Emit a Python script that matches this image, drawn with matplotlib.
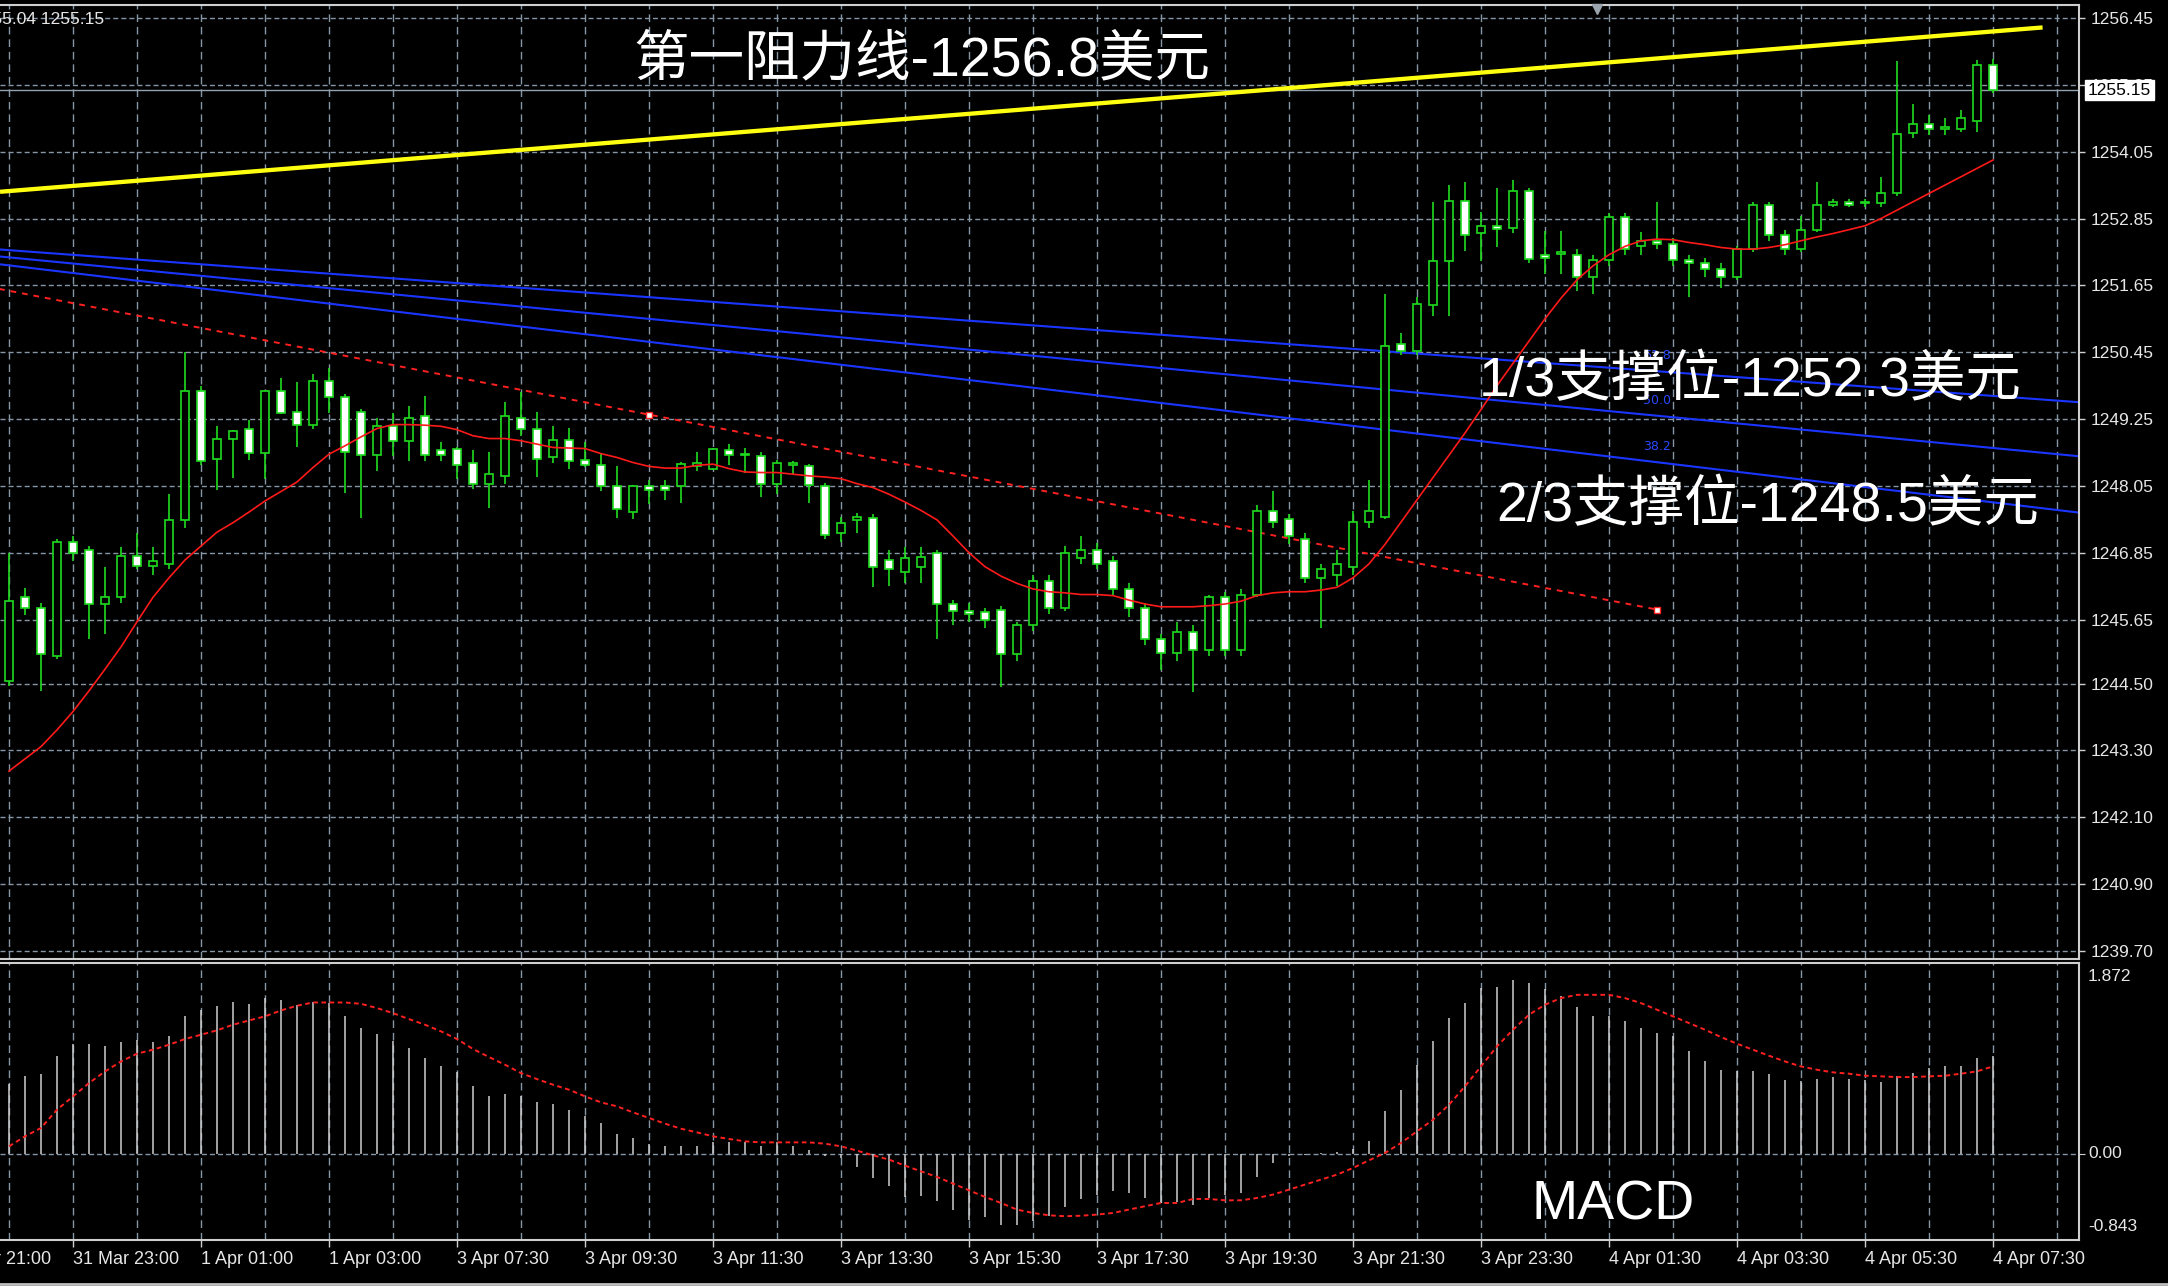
import numpy as np
import matplotlib
matplotlib.use('Agg')
import matplotlib.pyplot as plt

plt.rcParams['font.family'] = ['Liberation Sans', 'Noto Sans CJK SC', 'DejaVu Sans']

# ---- candles (15 min bars) ----
opens = np.array([
    1244.55, 1246.05, 1245.85, 1245.00, 1247.05, 1246.90, 1245.93, 1246.05, 1246.80, 1246.62,
    1246.65, 1247.44, 1249.76, 1248.53, 1248.89, 1249.08, 1248.64, 1249.76, 1249.37, 1249.14,
    1249.94, 1249.65, 1249.37, 1248.60, 1249.12, 1248.85, 1249.30, 1248.69, 1248.72, 1248.47,
    1248.08, 1248.22, 1249.26, 1249.08, 1248.57, 1248.87, 1248.51, 1248.43, 1248.04, 1247.58,
    1248.04, 1248.04, 1248.04, 1248.40, 1248.36, 1248.69, 1248.63, 1248.58, 1248.08, 1248.42,
    1248.40, 1248.04, 1247.20, 1247.44, 1247.47, 1246.72, 1246.50, 1246.60, 1246.85, 1245.93,
    1245.80, 1245.78, 1245.82, 1245.03, 1245.55, 1246.35, 1245.85, 1246.75, 1246.90, 1246.70,
    1246.20, 1245.85, 1245.30, 1245.05, 1245.43, 1245.10, 1246.05, 1245.10, 1246.10, 1247.60,
    1247.45, 1247.10, 1246.40, 1246.45, 1246.60, 1247.40, 1247.50, 1250.60, 1250.47, 1251.30,
    1252.08, 1253.17, 1252.59, 1252.71, 1252.68, 1253.35, 1252.20, 1252.22, 1252.20, 1251.80,
    1252.10, 1252.88, 1252.35, 1252.45, 1252.40, 1252.10, 1252.05, 1251.95, 1251.80, 1252.30,
    1253.10, 1252.55, 1252.30, 1252.65, 1253.10, 1253.15, 1253.12, 1253.12, 1253.30, 1254.38,
    1254.55, 1254.45, 1254.45, 1254.60, 1255.60])
highs = np.array([
    1246.85, 1246.22, 1245.95, 1247.10, 1247.15, 1246.97, 1246.60, 1246.95, 1247.20, 1246.95,
    1247.91, 1250.46, 1249.84, 1249.13, 1249.06, 1249.23, 1249.78, 1249.99, 1249.91, 1250.06,
    1250.17, 1249.70, 1249.43, 1249.26, 1249.35, 1249.49, 1249.67, 1248.83, 1248.74, 1248.70,
    1248.66, 1249.56, 1249.74, 1249.38, 1249.13, 1249.09, 1248.83, 1248.64, 1248.41, 1248.06,
    1248.16, 1248.16, 1248.48, 1248.66, 1248.73, 1248.80, 1248.73, 1248.65, 1248.52, 1248.49,
    1248.45, 1248.10, 1247.50, 1247.57, 1247.55, 1246.90, 1246.95, 1246.95, 1246.90, 1246.00,
    1245.95, 1245.85, 1245.90, 1245.60, 1246.45, 1246.45, 1246.97, 1247.15, 1247.02, 1246.80,
    1246.30, 1245.95, 1245.40, 1245.60, 1245.55, 1246.10, 1246.15, 1246.20, 1247.70, 1247.95,
    1247.55, 1247.20, 1246.65, 1246.90, 1247.60, 1248.15, 1251.50, 1250.80, 1251.45, 1253.14,
    1253.46, 1253.50, 1252.96, 1253.39, 1253.54, 1253.40, 1252.62, 1252.62, 1252.30, 1252.20,
    1252.95, 1252.95, 1252.60, 1253.15, 1252.50, 1252.20, 1252.15, 1252.05, 1252.35, 1253.15,
    1253.15, 1252.65, 1252.90, 1253.50, 1253.20, 1253.20, 1253.20, 1253.60, 1255.68, 1254.90,
    1254.70, 1254.65, 1254.80, 1255.70, 1255.72])
lows = np.array([
    1244.45, 1245.73, 1244.37, 1244.95, 1246.70, 1245.31, 1245.40, 1245.95, 1246.55, 1246.45,
    1246.55, 1247.30, 1248.42, 1247.98, 1248.20, 1248.52, 1248.17, 1249.34, 1248.74, 1249.07,
    1249.36, 1247.92, 1247.47, 1248.31, 1248.58, 1248.49, 1248.49, 1248.49, 1248.17, 1247.99,
    1247.66, 1248.08, 1248.94, 1248.21, 1248.46, 1248.35, 1248.39, 1247.96, 1247.47, 1247.45,
    1247.73, 1247.80, 1247.74, 1248.31, 1248.33, 1248.42, 1248.28, 1247.85, 1247.90, 1248.25,
    1247.74, 1247.10, 1247.05, 1247.20, 1246.23, 1246.25, 1246.30, 1246.30, 1245.31, 1245.55,
    1245.60, 1245.50, 1244.44, 1244.90, 1245.45, 1245.75, 1245.80, 1246.65, 1246.55, 1246.10,
    1245.70, 1245.20, 1244.75, 1244.90, 1244.35, 1245.00, 1245.00, 1245.00, 1246.05, 1247.30,
    1247.00, 1246.30, 1245.50, 1246.25, 1246.45, 1247.30, 1247.45, 1250.40, 1250.40, 1251.10,
    1251.10, 1252.26, 1252.08, 1252.33, 1252.59, 1252.05, 1251.86, 1251.86, 1251.55, 1251.50,
    1252.00, 1252.20, 1252.20, 1252.30, 1252.00, 1251.45, 1251.80, 1251.60, 1251.75, 1252.25,
    1252.45, 1252.20, 1252.25, 1252.60, 1253.05, 1253.05, 1253.05, 1253.05, 1253.25, 1254.30,
    1254.35, 1254.35, 1254.40, 1254.40, 1255.10])
closes = np.array([
    1245.98, 1245.85, 1245.03, 1247.05, 1246.85, 1245.93, 1246.05, 1246.80, 1246.62, 1246.70,
    1247.44, 1249.76, 1248.50, 1248.90, 1249.04, 1248.64, 1249.76, 1249.36, 1249.14, 1249.94,
    1249.64, 1248.65, 1248.60, 1249.12, 1248.85, 1249.26, 1248.60, 1248.60, 1248.42, 1248.08,
    1248.26, 1249.30, 1249.08, 1248.53, 1248.87, 1248.49, 1248.42, 1248.04, 1247.64, 1248.04,
    1247.97, 1247.97, 1248.45, 1248.47, 1248.72, 1248.60, 1248.60, 1248.08, 1248.47, 1248.47,
    1248.07, 1247.17, 1247.38, 1247.50, 1246.60, 1246.55, 1246.75, 1246.78, 1245.93, 1245.80,
    1245.75, 1245.65, 1245.03, 1245.55, 1246.35, 1245.85, 1246.85, 1246.90, 1246.65, 1246.20,
    1245.85, 1245.30, 1245.05, 1245.43, 1245.10, 1246.05, 1245.10, 1246.10, 1247.60, 1247.40,
    1247.15, 1246.40, 1246.55, 1246.65, 1247.40, 1247.60, 1250.57, 1250.47, 1251.31, 1252.09,
    1253.17, 1252.56, 1252.71, 1252.66, 1253.35, 1252.13, 1252.14, 1252.24, 1251.80, 1252.10,
    1252.88, 1252.30, 1252.45, 1252.40, 1252.10, 1252.05, 1251.95, 1251.80, 1252.30, 1253.10,
    1252.55, 1252.30, 1252.65, 1253.10, 1253.15, 1253.10, 1253.15, 1253.30, 1254.36, 1254.55,
    1254.45, 1254.50, 1254.65, 1255.60, 1255.15])

# moving average (red solid)
ma_vals = np.array([
    1242.93, 1243.15, 1243.37, 1243.67, 1244.00, 1244.37, 1244.76, 1245.16, 1245.61, 1246.05,
    1246.40, 1246.72, 1246.97, 1247.22, 1247.39, 1247.58, 1247.78, 1247.95, 1248.12, 1248.38,
    1248.62, 1248.77, 1248.93, 1249.08, 1249.15, 1249.15, 1249.14, 1249.12, 1249.06, 1248.95,
    1248.90, 1248.90, 1248.86, 1248.80, 1248.74, 1248.73, 1248.72, 1248.63, 1248.56, 1248.47,
    1248.40, 1248.37, 1248.37, 1248.42, 1248.44, 1248.36, 1248.30, 1248.29, 1248.29, 1248.26,
    1248.23, 1248.21, 1248.18, 1248.09, 1248.02, 1247.90, 1247.76, 1247.61, 1247.44, 1247.15,
    1246.85, 1246.60, 1246.43, 1246.30, 1246.20, 1246.15, 1246.13, 1246.10, 1246.10, 1246.08,
    1246.00, 1245.93, 1245.88, 1245.88, 1245.88, 1245.90, 1245.93, 1245.98, 1246.08, 1246.13,
    1246.15, 1246.15, 1246.18, 1246.23, 1246.40, 1246.65, 1247.00, 1247.40, 1247.80, 1248.20,
    1248.60, 1249.00, 1249.42, 1249.85, 1250.25, 1250.65, 1251.05, 1251.42, 1251.75, 1252.00,
    1252.20, 1252.35, 1252.45, 1252.48, 1252.47, 1252.42, 1252.38, 1252.33, 1252.30, 1252.30,
    1252.33, 1252.38, 1252.45, 1252.52, 1252.58, 1252.65, 1252.72, 1252.85, 1253.00, 1253.15,
    1253.30, 1253.45, 1253.60, 1253.75, 1253.90])

# MACD histogram and signal
macd_hist = np.array([
    0.686, 0.767, 0.787, 0.963, 1.077, 1.077, 1.058, 1.097, 1.120, 1.100,
    1.159, 1.355, 1.410, 1.453, 1.492, 1.472, 1.528, 1.508, 1.463, 1.485,
    1.479, 1.355, 1.234, 1.179, 1.103, 1.041, 0.944, 0.865, 0.806, 0.669,
    0.571, 0.591, 0.571, 0.512, 0.493, 0.434, 0.375, 0.300, 0.199, 0.160,
    0.098, 0.082, 0.082, 0.082, 0.118, 0.118, 0.118, 0.082, 0.118, 0.082,
    0.039, -0.023, -0.040, -0.131, -0.232, -0.310, -0.421, -0.408, -0.464, -0.545,
    -0.650, -0.620, -0.699, -0.699, -0.653, -0.611, -0.522, -0.440, -0.400, -0.366,
    -0.382, -0.431, -0.480, -0.473, -0.496, -0.431, -0.400, -0.382, -0.229, -0.088,
    -0.020, -0.010, 0.010, 0.020, 0.050, 0.124, 0.418, 0.630, 0.875, 1.103,
    1.332, 1.479, 1.626, 1.632, 1.707, 1.675, 1.616, 1.544, 1.437, 1.355,
    1.348, 1.299, 1.234, 1.185, 1.152, 1.006, 0.908, 0.826, 0.810, 0.810,
    0.787, 0.728, 0.712, 0.735, 0.751, 0.735, 0.728, 0.708, 0.761, 0.793,
    0.842, 0.865, 0.859, 0.940, 0.963])
macd_signal = np.array([
    0.075, 0.173, 0.255, 0.434, 0.564, 0.695, 0.809, 0.907, 0.983, 1.022,
    1.071, 1.127, 1.169, 1.212, 1.267, 1.309, 1.349, 1.407, 1.453, 1.485,
    1.485, 1.485, 1.472, 1.430, 1.381, 1.322, 1.267, 1.202, 1.127, 1.029,
    0.950, 0.875, 0.793, 0.734, 0.679, 0.630, 0.565, 0.506, 0.467, 0.408,
    0.353, 0.297, 0.248, 0.212, 0.173, 0.147, 0.124, 0.114, 0.114, 0.114,
    0.114, 0.101, 0.075, 0.033, -0.013, -0.055, -0.114, -0.170, -0.225, -0.290,
    -0.356, -0.421, -0.480, -0.545, -0.578, -0.601, -0.610, -0.605, -0.594, -0.578,
    -0.545, -0.512, -0.480, -0.480, -0.441, -0.441, -0.454, -0.454, -0.431, -0.398,
    -0.349, -0.300, -0.251, -0.202, -0.137, -0.062, 0.010, 0.108, 0.222, 0.336,
    0.483, 0.663, 0.859, 1.055, 1.218, 1.365, 1.463, 1.528, 1.560, 1.560,
    1.560, 1.528, 1.479, 1.414, 1.349, 1.283, 1.218, 1.146, 1.081, 1.022,
    0.963, 0.907, 0.858, 0.826, 0.800, 0.787, 0.767, 0.761, 0.754, 0.754,
    0.761, 0.767, 0.787, 0.810, 0.859])

# drawn objects
yellow_bars = [-0.56, 127.1]
yellow_prices = [1253.33, 1256.28]
trend_bars = [-23, 103]            # red dashed trendline, middle anchor at bar 40
trend_prices = [1252.83, 1245.83]
fan_bars = [-1, 130]
fan_prices = {'61.8': [1252.303, 1249.539],
              '50.0': [1252.180, 1248.565],
              '38.2': [1252.043, 1247.549]}
fan_label_bar = 103
bid_price = 1255.15

price_ticks = [1256.45, 1255.25, 1254.05, 1252.85, 1251.65, 1250.45, 1249.25, 1248.05,
               1246.85, 1245.65, 1244.50, 1243.30, 1242.10, 1240.90, 1239.70]
macd_top, macd_bottom = 1.872, -0.843
time_label_bars = list(range(4, 125, 8))
time_labels = ['31 Mar 23:00', '1 Apr 01:00', '1 Apr 03:00', '3 Apr 07:30', '3 Apr 09:30',
               '3 Apr 11:30', '3 Apr 13:30', '3 Apr 15:30', '3 Apr 17:30', '3 Apr 19:30',
               '3 Apr 21:30', '3 Apr 23:30', '4 Apr 01:30', '4 Apr 03:30', '4 Apr 05:30',
               '4 Apr 07:30']
cut_label = '31 Mar 21:00'

# ---- layout ----
W, H = 2168, 1286
PT = 0.72  # points per pixel at dpi 100
GREEN = '#1fdc1f'
GRID = '#8796a6'
FRAME = '#cfcfcf'
TXT = '#e6e6e6'

fig = plt.figure(figsize=(W / 100, H / 100), dpi=100, facecolor='black')
ax = fig.add_axes([0, 1 - 959 / H, 2079 / W, (959 - 5) / H], facecolor='black')
ax2 = fig.add_axes([0, 1 - 1240 / H, 2079 / W, (1240 - 963) / H], facecolor='black', sharex=ax)

x = np.arange(len(opens))
ax.set_xlim(-0.5625, 129.375)
ax.set_ylim(1239.557, 1256.683)
ax2.set_ylim(macd_bottom, macd_top)

for a in (ax, ax2):
    for side in ('top', 'right', 'bottom'):
        a.spines[side].set_color(FRAME)
        a.spines[side].set_linewidth(1.5)
    a.spines['left'].set_visible(False)
    a.set_xticks(time_label_bars)
    a.set_xticks(np.arange(0, 130, 4), minor=True)
    a.grid(True, which='both', axis='x', color=GRID, lw=1.0, linestyle=(0, (5.5, 3.5)))
    a.set_axisbelow(True)

# price axis
ax.set_yticks(price_ticks)
ax.set_yticklabels(['%.2f' % p for p in price_ticks])
ax.yaxis.tick_right()
ax.tick_params(axis='y', colors=FRAME, labelcolor=TXT, labelsize=12.5, length=6 * PT,
               width=1, pad=6 * PT)
ax.tick_params(axis='x', which='both', length=0, labelbottom=False)
ax.grid(True, axis='y', color=GRID, lw=1.0, linestyle=(0, (3.6, 2.2)))

# candles
up = closes >= opens
ax.vlines(x, lows, highs, color=GREEN, lw=1.2, zorder=3)
body_h = np.maximum(np.abs(closes - opens), 0.012)
ax.bar(x, body_h, bottom=np.minimum(opens, closes), width=0.56,
       color=np.where(up, 'black', 'white'), edgecolor=GREEN, linewidth=1.2, zorder=4)

ax.plot(x, ma_vals, color='#ff1a1a', lw=1.2, zorder=5)

# red dashed trendline with its anchors
ax.plot(trend_bars, trend_prices, color='#ff2020', lw=1.4, linestyle=(0, (3, 3)), zorder=2)
anchor_bars = [40, trend_bars[1]]
ax.plot(anchor_bars, np.interp(anchor_bars, trend_bars, trend_prices), linestyle='none',
        marker='s', ms=4, mfc='white', mec='#ff2020', mew=1, zorder=6)

# fib fan (blue)
for lab, pr in fan_prices.items():
    ax.plot(fan_bars, pr, color='#1a35ff', lw=1.5, zorder=2)
    ax.annotate(lab, xy=(fan_label_bar, np.interp(fan_label_bar, fan_bars, pr)),
                xytext=(0, 11), textcoords='offset points', ha='center', va='center',
                color='#2a48ff', fontsize=9, family='DejaVu Sans', zorder=2)

# resistance line (yellow) and bid line
ax.plot(yellow_bars, yellow_prices, color='#ffff10', lw=3.1, solid_capstyle='butt', zorder=6)
ax.axhline(bid_price, color='#94a2b0', lw=1.0, zorder=1)
ax.annotate('%.2f' % bid_price, xy=(1, bid_price), xycoords=('axes fraction', 'data'),
            xytext=(9 * PT, 0), textcoords='offset points', ha='left', va='center',
            fontsize=12.5, color='black', annotation_clip=False, zorder=10,
            bbox=dict(boxstyle='square,pad=0.15', fc='white', ec='white'))

# chart-shift marker
ax.plot([0.768], [0.9955], transform=ax.transAxes, marker='v', ms=7, color='#9aa4ae',
        clip_on=False, zorder=10)

# ---- MACD panel ----
ax2.vlines(x, 0, macd_hist, color='#cfcfcf', lw=1.1, zorder=3)
ax2.plot(x, macd_signal, color='#ff2020', lw=1.4, linestyle=(0, (2.4, 1.8)), zorder=4)
ax2.set_yticks([0])
ax2.grid(True, axis='y', color=GRID, lw=1.0, linestyle=(0, (3.6, 2.2)))
ax2.tick_params(axis='y', left=False, right=True, labelleft=False, labelright=False,
                colors=FRAME, length=6 * PT)
ax2.set_xticklabels(time_labels)
ax2.tick_params(axis='x', which='major', colors=FRAME, labelcolor=TXT, labelsize=13,
                length=7 * PT, width=1, pad=4 * PT)
ax2.tick_params(axis='x', which='minor', length=0)
for lab in ax2.get_xticklabels():
    lab.set_horizontalalignment('left')
ax2.annotate(cut_label, xy=(-4, 0), xycoords=('data', 'axes fraction'),
             xytext=(0, -(7 + 4) * PT), textcoords='offset points', ha='left', va='top',
             fontsize=13, color=TXT, annotation_clip=False)

for val, off, txt in [(macd_top, -13.5, '1.872'), (0.0, 0, '0.00'), (macd_bottom, 13.5, '-0.843')]:
    ax2.annotate(txt, xy=(1, val), xycoords=('axes fraction', 'data'),
                 xytext=(9 * PT, off * PT), textcoords='offset points', ha='left', va='center',
                 fontsize=12.5, color=TXT, annotation_clip=False)

# ---- overlay text ----
big = dict(color='white', va='center', ha='left', fontsize=40)
fig.text(633 / W, 1 - 61 / H, '第一阻力线-1256.8美元', **big)
fig.text(1479 / W, 1 - 382 / H, '1/3支撑位-1252.3美元', **big)
fig.text(1496 / W, 1 - 507 / H, '2/3支撑位-1248.5美元', **big)
fig.text(1532 / W, 1 - 1206 / H, 'MACD', color='white', va='center', ha='left', fontsize=40)
fig.text(-27 / W, 1 - 19 / H, '1255.04 1255.15', color=TXT, va='center', ha='left', fontsize=12.5)

# bottom window edge
fig.add_artist(plt.Line2D([0, 1], [1 - 1284 / H] * 2, color='#bfbfbf', lw=2))

fig.savefig('out.png', dpi=100, facecolor='black')
